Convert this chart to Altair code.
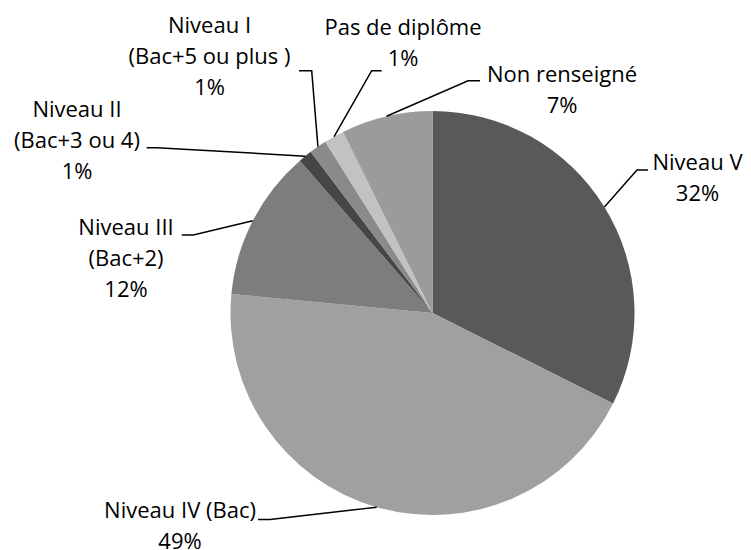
import math
import altair as alt
import pandas as pd

# ---- data ----
categories = [
    "Niveau V",
    "Niveau IV (Bac)",
    "Niveau III (Bac+2)",
    "Niveau II (Bac+3 ou 4)",
    "Niveau I (Bac+5 ou plus )",
    "Pas de diplôme",
    "Non renseigné",
]
shares = [32.4, 44.1, 12.1, 1.1, 1.4, 1.6, 7.3]  # slice sizes as drawn
label_names = [
    "Niveau V",
    "Niveau IV (Bac)",
    "Niveau III\n(Bac+2)",
    "Niveau II\n(Bac+3 ou 4)",
    "Niveau I\n(Bac+5 ou plus )",
    "Pas de diplôme",
    "Non renseigné",
]
label_pcts = ["32%", "49%", "12%", "1%", "1%", "1%", "7%"]
colors = ["#595959", "#a0a0a0", "#7d7d7d", "#464646", "#8a8a8a", "#c2c2c2", "#9b9b9b"]

# ---- layout (page pixel coordinates) ----
W, H = 735, 542
CX, CY, R = 432.5, 313.0, 202.0
FONT = "Open Sans"
FS = 22
LH = 31
# label text anchor (center x, first baseline y), leader elbow, leader end
label_pos = [(697.5, 170), (180, 518), (126, 235), (77, 117), (209.5, 33), (403, 35), (562, 82)]
elbows = [(637, 170), (270, 519.5), (193.3, 235), (156.7, 147.7), (311.7, 70.7), (371.7, 70.7), (468, 80.7)]
ends = [(648, 170), (258, 519.5), (181.7, 235), (146.7, 147.7), (299, 70.7), (381.7, 70.7), (480, 80.7)]

total = sum(shares)
pie_df = pd.DataFrame({"cat": categories, "share": shares, "idx": list(range(len(categories)))})

line_rows = []
cum = 0.0
for i, s in enumerate(shares):
    mid = (cum + s / 2) / total * 2 * math.pi
    cum += s
    sx = CX + R * math.sin(mid)
    sy = CY - R * math.cos(mid)
    pts = [(sx, sy), elbows[i], ends[i]]
    for k, (px, py) in enumerate(pts):
        line_rows.append({"cat": categories[i], "k": k, "x": px, "y": py})
line_df = pd.DataFrame(line_rows)

text_df = pd.DataFrame({
    "cat": categories,
    "txt": [f"{n}\n{p}" for n, p in zip(label_names, label_pcts)],
    "x": [p[0] for p in label_pos],
    "y": [p[1] for p in label_pos],
})

xs = alt.Scale(domain=[8, 8 + W], nice=False, zero=False)
ys = alt.Scale(domain=[8, 8 + H], nice=False, zero=False, reverse=True)

pie = alt.Chart(pie_df).mark_arc(radius=R).encode(
    theta=alt.Theta("share:Q", stack=True),
    order=alt.Order("idx:Q"),
    color=alt.Color("cat:N", scale=alt.Scale(domain=categories, range=colors), legend=None),
    x=alt.value(CX - 8),
    y=alt.value(CY - 8),
)

leaders = alt.Chart(line_df).mark_line(color="#000000", strokeWidth=1.5).encode(
    x=alt.X("x:Q", scale=xs, axis=None),
    y=alt.Y("y:Q", scale=ys, axis=None),
    detail="cat:N",
    order="k:Q",
)

labels = alt.Chart(text_df).mark_text(
    font=FONT, fontSize=FS, lineHeight=LH, lineBreak="\n",
    align="center", baseline="alphabetic", color="#000000",
).encode(
    x=alt.X("x:Q", scale=xs, axis=None),
    y=alt.Y("y:Q", scale=ys, axis=None),
    text="txt:N",
)

chart = alt.layer(pie, leaders, labels).properties(
    width=W, height=H, padding=0,
    autosize=alt.AutoSizeParams(type="none"),
    background="white",
).configure_view(strokeWidth=0)

chart.save("out.html", embed_options={"renderer": "svg", "actions": False})
